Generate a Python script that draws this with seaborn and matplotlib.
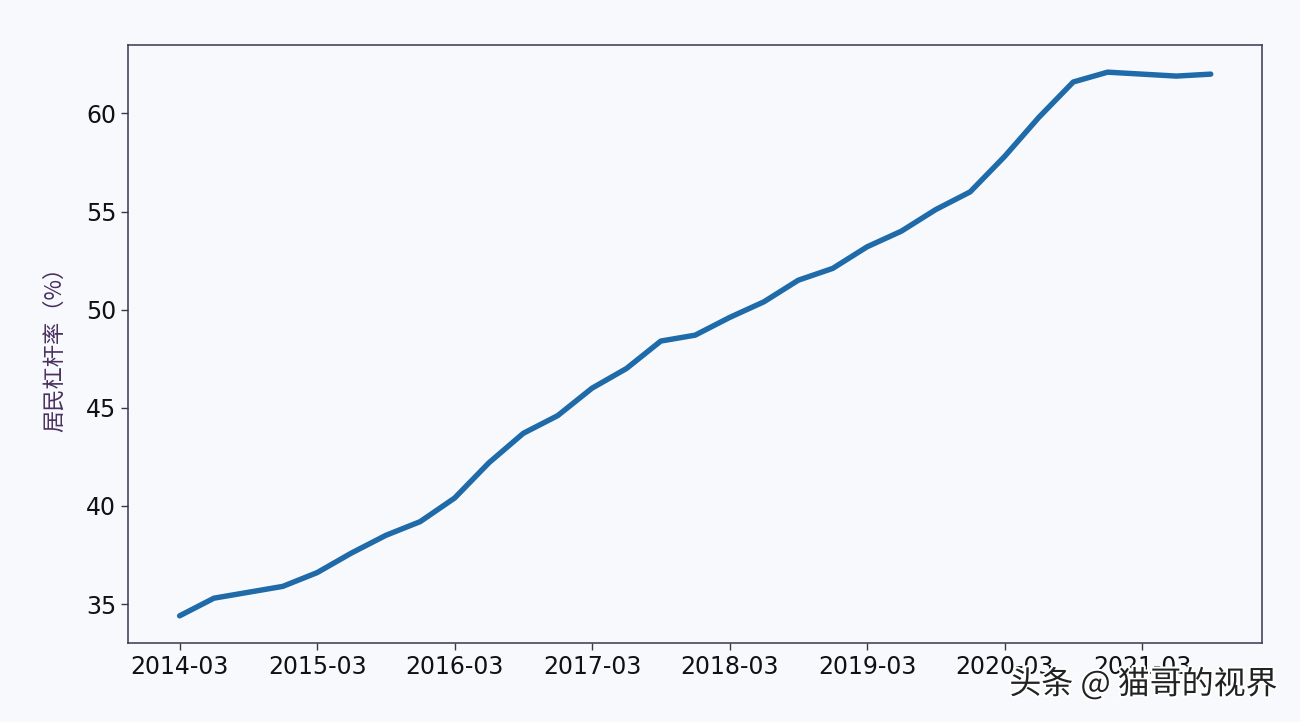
"""Household leverage ratio, quarterly 2014-03 .. 2021-09."""

import matplotlib.pyplot as plt
import matplotlib.patheffects as pe
import pandas as pd
import seaborn as sns

sns.set_theme(style="ticks")
plt.rcParams['font.family'] = ['DejaVu Sans', 'Noto Sans CJK SC']

# ============================================================
# Data
# ============================================================

quarters = [
    "2014-03", "2014-06", "2014-09", "2014-12",
    "2015-03", "2015-06", "2015-09", "2015-12",
    "2016-03", "2016-06", "2016-09", "2016-12",
    "2017-03", "2017-06", "2017-09", "2017-12",
    "2018-03", "2018-06", "2018-09", "2018-12",
    "2019-03", "2019-06", "2019-09", "2019-12",
    "2020-03", "2020-06", "2020-09", "2020-12",
    "2021-03", "2021-06", "2021-09",
]
leverage = [
    34.4, 35.3, 35.6, 35.9,
    36.6, 37.6, 38.5, 39.2,
    40.4, 42.2, 43.7, 44.6,
    46.0, 47.0, 48.4, 48.7,
    49.6, 50.4, 51.5, 52.1,
    53.2, 54.0, 55.1, 56.0,
    57.8, 59.8, 61.6, 62.1,
    62.0, 61.9, 62.0,
]
tick_labels = ["2014-03", "2015-03", "2016-03", "2017-03",
               "2018-03", "2019-03", "2020-03", "2021-03"]

df = pd.DataFrame({"quarter": quarters, "leverage": leverage})
df["pos"] = range(len(df))

# ============================================================
# Plot
# ============================================================

bg = "#f8f9fc"
edge = "#3b3550"

fig, ax = plt.subplots(figsize=(13, 7.22), dpi=100, facecolor=bg)
fig.subplots_adjust(left=0.0985, right=0.971, top=0.9377, bottom=0.1094)
ax.set_facecolor(bg)

sns.lineplot(data=df, x="pos", y="leverage", color="#1f6aa8",
             linewidth=3.9, ax=ax)

ax.set_xticks([df.loc[df["quarter"] == q, "pos"].iloc[0] for q in tick_labels])
ax.set_xticklabels(tick_labels)
ax.set_xlabel("")
ax.set_ylabel("居民杠杆率（%）", fontsize=16, color="#4a3060", labelpad=14,
              family=['Noto Sans CJK SC', 'DejaVu Sans'])
ax.set_yticks([35, 40, 45, 50, 55, 60])

ax.tick_params(axis="both", labelsize=17, colors="#111111", length=5,
               width=1, direction="out")
ax.tick_params(axis="both", color=edge)
for s in ax.spines.values():
    s.set_color(edge)
    s.set_linewidth(1.1)

fig.text(0.983, 0.052, "头条 @ 猫哥的视界", ha="right", va="center",
         fontsize=23, color="#222222",
         family=['Noto Sans CJK SC', 'DejaVu Sans'],
         path_effects=[pe.withStroke(linewidth=3, foreground="white")])

fig.savefig("out.png", dpi=100, facecolor=bg)
